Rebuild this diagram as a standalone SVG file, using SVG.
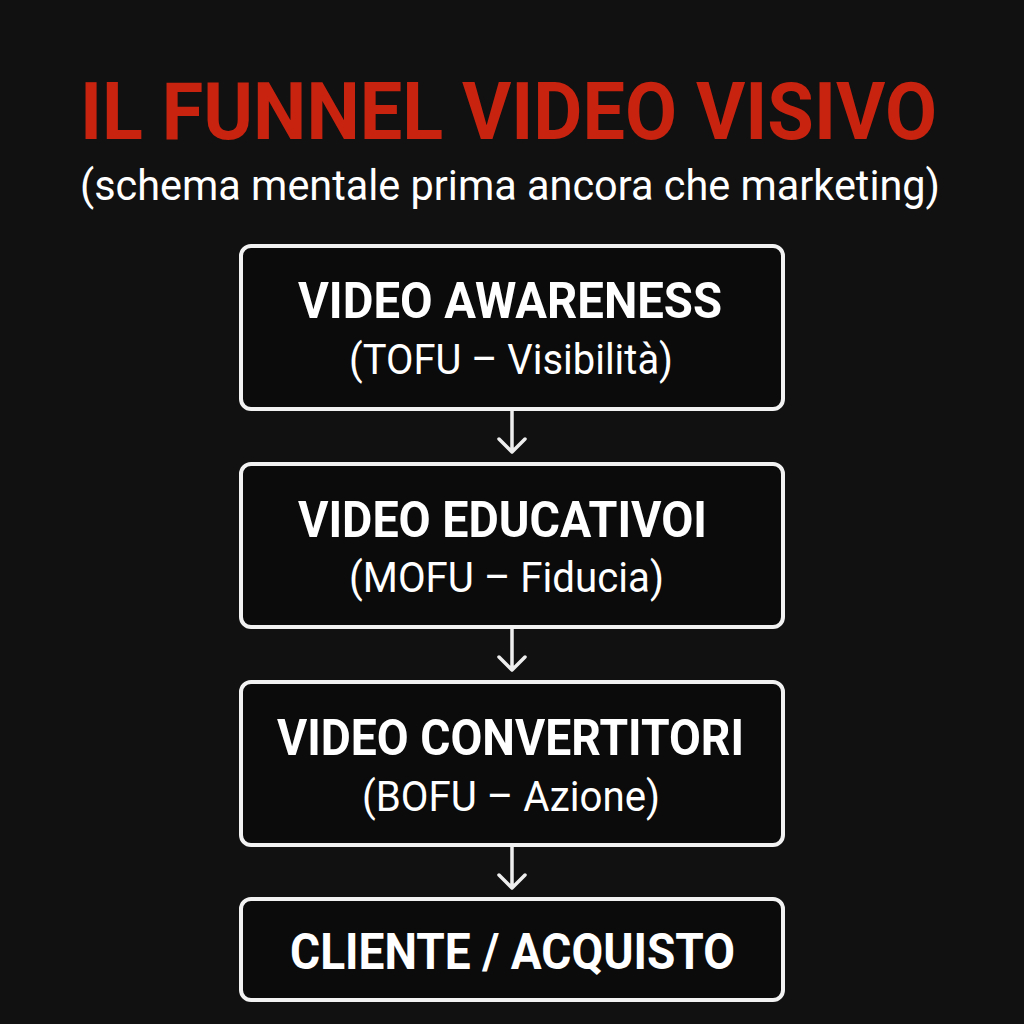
<svg xmlns="http://www.w3.org/2000/svg" width="1024" height="1024" viewBox="0 0 1024 1024">
<defs>
<style>
.bg{fill:#111111}
.box{fill:#0b0b0b;stroke:#f2f2f2;stroke-width:4}
.title{font-family:Roboto,"Liberation Sans",sans-serif;font-weight:bold;fill:#c8230f}
.sub{font-family:Roboto,"Liberation Sans",sans-serif;fill:#ffffff}
.h{font-family:Roboto,"Liberation Sans",sans-serif;font-weight:bold;fill:#ffffff;font-size:50px}
.s{font-family:Roboto,"Liberation Sans",sans-serif;fill:#ffffff;font-size:42px}
.conn{stroke:#eeeeee;stroke-width:3.5;fill:none;stroke-linecap:round;stroke-linejoin:round}
</style>
</defs>
<rect class="bg" x="0" y="0" width="1024" height="1024"/>
<g id="title">
<text class="title" x="80" y="139" font-size="80" textLength="857" lengthAdjust="spacingAndGlyphs">IL FUNNEL VIDEO VISIVO</text>
<text class="sub" x="80" y="200" font-size="43" textLength="860" lengthAdjust="spacingAndGlyphs">(schema mentale prima ancora che marketing)</text>
</g>
<g id="connectors">
<path class="conn" d="M512 411 V451 M499 439 L512 452 L525 439"/>
<path class="conn" d="M512 629 V669 M499 657 L512 670 L525 657"/>
<path class="conn" d="M512 847 V887 M499 875 L512 888 L525 875"/>
</g>
<g id="node-awareness">
<rect class="box" x="241" y="246" width="542" height="163" rx="10"/>
<text class="h" x="298" y="318" textLength="424" lengthAdjust="spacingAndGlyphs">VIDEO AWARENESS</text>
<text class="s" x="349" y="374" textLength="324" lengthAdjust="spacingAndGlyphs">(TOFU – Visibilità)</text>
</g>
<g id="node-educativi">
<rect class="box" x="241" y="464" width="542" height="163" rx="10"/>
<text class="h" x="298" y="537" textLength="409" lengthAdjust="spacingAndGlyphs">VIDEO EDUCATIVOI</text>
<text class="s" x="349" y="592" textLength="315" lengthAdjust="spacingAndGlyphs">(MOFU – Fiducia)</text>
</g>
<g id="node-convertitori">
<rect class="box" x="241" y="682" width="542" height="163" rx="10"/>
<text class="h" x="277" y="755" textLength="467" lengthAdjust="spacingAndGlyphs">VIDEO CONVERTITORI</text>
<text class="s" x="362" y="811" textLength="298" lengthAdjust="spacingAndGlyphs">(BOFU – Azione)</text>
</g>
<g id="node-cliente">
<rect class="box" x="241" y="899" width="542" height="101" rx="10"/>
<text class="h" x="290" y="969" textLength="445" lengthAdjust="spacingAndGlyphs">CLIENTE / ACQUISTO</text>
</g>
</svg>
